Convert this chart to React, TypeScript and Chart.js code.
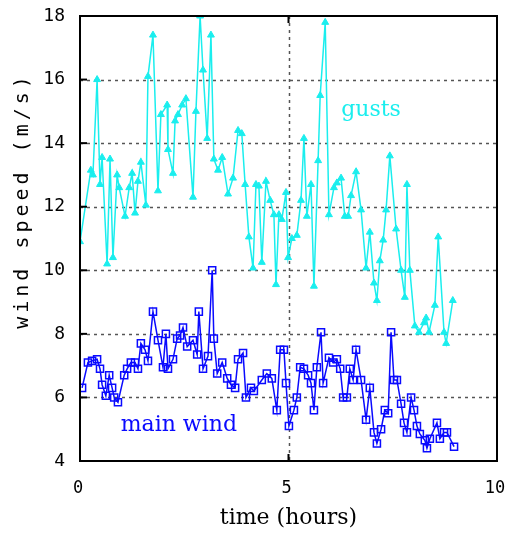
import React, { useEffect, useRef } from "react";
import { Chart, registerables } from "chart.js";

Chart.register(...registerables);

// ---- data (hours, m/s) ----
const gustTimes = [
  0.0, 0.26, 0.31, 0.41, 0.48, 0.53, 0.65, 0.72, 0.79, 0.89, 0.94, 1.08, 1.18, 1.25, 1.32, 1.39,
  1.46, 1.58, 1.63, 1.75, 1.87, 1.94, 2.09, 2.11, 2.23, 2.28, 2.35, 2.45, 2.54, 2.71, 2.78, 2.88,
  2.95, 3.05, 3.14, 3.21, 3.31, 3.41, 3.55, 3.67, 3.79, 3.88, 3.96, 4.05, 4.15, 4.22, 4.29, 4.36,
  4.46, 4.56, 4.65, 4.7, 4.77, 4.84, 4.94, 4.99, 5.08, 5.2, 5.3, 5.37, 5.44, 5.54, 5.61, 5.71,
  5.76, 5.88, 5.97, 6.09, 6.16, 6.26, 6.35, 6.43, 6.5, 6.62, 6.74, 6.86, 6.95, 7.05, 7.12, 7.19,
  7.27, 7.34, 7.43, 7.58, 7.7, 7.79, 7.84, 7.91, 8.03, 8.13, 8.25, 8.3, 8.37, 8.51, 8.59, 8.73,
  8.78, 8.94,
];
const gustSpeeds = [
  10.9, 13.15, 13.0, 16.0, 12.7, 13.55, 10.2, 13.5, 10.4, 13.0, 12.6, 11.7, 12.6, 13.05, 11.8, 12.8,
  13.4, 12.05, 16.1, 17.4, 12.5, 14.9, 15.2, 13.8, 13.05, 14.7, 14.9, 15.2, 15.4, 12.3, 15.0, 18.0,
  16.3, 14.15, 17.4, 13.5, 13.15, 13.55, 12.4, 12.9, 14.4, 14.3, 12.7, 11.05, 10.07, 12.7, 12.65, 10.25,
  12.8, 12.2, 11.75, 9.55, 11.75, 11.6, 12.45, 10.4, 11.0, 11.1, 12.2, 14.15, 11.7, 12.7, 9.5, 13.45,
  15.5, 17.8, 11.75, 12.6, 12.75, 12.9, 11.7, 11.7, 12.35, 13.1, 11.9, 10.07, 11.2, 9.6, 9.05, 10.3,
  10.95, 11.9, 13.6, 11.3, 10.0, 9.15, 12.7, 10.0, 8.25, 8.05, 8.35, 8.5, 8.05, 8.9, 11.05, 8.05,
  7.7, 9.05,
];
const windTimes = [
  0.05, 0.19, 0.29, 0.41, 0.48, 0.53, 0.62, 0.7, 0.77, 0.82, 0.91, 1.06, 1.13, 1.22, 1.32, 1.39,
  1.46, 1.56, 1.63, 1.75, 1.87, 1.99, 2.06, 2.11, 2.23, 2.33, 2.4, 2.47, 2.57, 2.71, 2.81, 2.85,
  2.95, 3.07, 3.17, 3.21, 3.29, 3.41, 3.53, 3.62, 3.72, 3.79, 3.91, 3.98, 4.1, 4.17, 4.36, 4.48,
  4.6, 4.72, 4.8, 4.89, 4.94, 5.01, 5.13, 5.2, 5.28, 5.37, 5.47, 5.54, 5.61, 5.68, 5.78, 5.83,
  5.97, 6.07, 6.16, 6.24, 6.31, 6.4, 6.47, 6.55, 6.62, 6.74, 6.86, 6.95, 7.05, 7.12, 7.22, 7.31,
  7.39, 7.46, 7.53, 7.6, 7.7, 7.77, 7.84, 7.94, 8.01, 8.08, 8.15, 8.27, 8.32, 8.39, 8.56, 8.63,
  8.73, 8.8, 8.97,
];
const windSpeeds = [
  6.3, 7.1, 7.15, 7.2, 6.9, 6.4, 6.05, 6.7, 6.3, 6.0, 5.85, 6.7, 6.9, 7.1, 7.1, 6.9,
  7.7, 7.5, 7.15, 8.7, 7.8, 6.95, 8.0, 6.9, 7.2, 7.85, 7.95, 8.2, 7.6, 7.8, 7.35, 8.7,
  6.9, 7.3, 10.0, 7.85, 6.75, 7.1, 6.6, 6.4, 6.3, 7.2, 7.4, 6.0, 6.3, 6.2, 6.55, 6.75,
  6.6, 5.6, 7.5, 7.5, 6.45, 5.1, 5.6, 6.0, 6.95, 6.9, 6.7, 6.45, 5.6, 6.95, 8.05, 6.45,
  7.25, 7.1, 7.2, 6.9, 6.0, 6.0, 6.9, 6.55, 7.5, 6.55, 5.3, 6.3, 4.9, 4.55, 5.0, 5.6,
  5.5, 8.05, 6.55, 6.55, 5.8, 5.2, 4.9, 6.0, 5.6, 5.1, 4.85, 4.65, 4.4, 4.7, 5.2, 4.7,
  4.9, 4.9, 4.45,
];
const xTicks = [0, 5, 10];
const yTicks = [4, 6, 8, 10, 12, 14, 16, 18];
const seriesNames = ["gusts", "main wind"];
const labelSpots = [
  { t: 6.98, v: 14.85 },
  { t: 2.37, v: 4.93 },
];
const xTitle = "time (hours)";
const yTitle = "wind speed (m/s)";

const GUST = "#1aeeee";
const WIND = "#0a0aff";

const decor = {
  id: "decor",
  beforeDatasetsDraw(chart: any) {
    const { ctx, chartArea: a, scales } = chart;
    const xs = scales.x, ys = scales.y;
    ctx.save();
    ctx.strokeStyle = "#555";
    ctx.lineWidth = 1.5;
    ctx.setLineDash([3, 4]);
    for (const v of yTicks) {
      if (v === yTicks[0] || v === yTicks[yTicks.length - 1]) continue;
      const y = Math.round(ys.getPixelForValue(v)) + 0.5;
      ctx.beginPath();
      ctx.moveTo(a.left, y);
      ctx.lineTo(a.right, y);
      ctx.stroke();
    }
    for (const v of xTicks) {
      if (v === xTicks[0] || v === xTicks[xTicks.length - 1]) continue;
      const x = Math.round(xs.getPixelForValue(v)) + 0.5;
      ctx.beginPath();
      ctx.moveTo(x, a.top);
      ctx.lineTo(x, a.bottom);
      ctx.stroke();
    }
    ctx.restore();
  },
  afterDatasetsDraw(chart: any) {
    const { ctx, chartArea: a, scales } = chart;
    const xs = scales.x, ys = scales.y;
    ctx.save();
    // tick marks
    ctx.strokeStyle = "#000";
    ctx.lineWidth = 2;
    ctx.setLineDash([]);
    for (const v of yTicks) {
      const y = ys.getPixelForValue(v);
      ctx.beginPath();
      ctx.moveTo(a.left, y);
      ctx.lineTo(a.left + 7, y);
      ctx.stroke();
    }
    for (const v of xTicks) {
      const x = xs.getPixelForValue(v);
      ctx.beginPath();
      ctx.moveTo(x, a.bottom);
      ctx.lineTo(x, a.bottom - 7);
      ctx.moveTo(x, a.top);
      ctx.lineTo(x, a.top + 7);
      ctx.stroke();
    }
    // frame
    ctx.lineWidth = 2;
    ctx.strokeRect(a.left, a.top, a.right - a.left, a.bottom - a.top);
    // series labels
    ctx.font = "22px 'DejaVu Serif'";
    ctx.textAlign = "center";
    ctx.textBaseline = "alphabetic";
    const cols = [GUST, WIND];
    labelSpots.forEach((p, i) => {
      ctx.fillStyle = cols[i];
      ctx.fillText(seriesNames[i], xs.getPixelForValue(p.t), ys.getPixelForValue(p.v));
    });
    // axis titles
    ctx.fillStyle = "#000";
    ctx.font = "22px 'DejaVu Serif'";
    ctx.textBaseline = "middle";
    ctx.fillText(xTitle, (a.left + a.right) / 2, 518);
    ctx.translate(23, (a.top + a.bottom) / 2 - 36);
    ctx.rotate(-Math.PI / 2);
    ctx.font = "20px 'DejaVu Sans Mono'";
    (ctx as any).letterSpacing = "4px";
    ctx.fillText(yTitle, 2, 0);
    ctx.restore();
  },
};

export default function App() {
  const ref = useRef<HTMLCanvasElement>(null);
  useEffect(() => {
    document.body.style.margin = "0";
    const chart = new Chart(ref.current!, {
      type: "line",
      data: {
        datasets: [
          {
            label: seriesNames[0],
            data: gustTimes.map((t, i) => ({ x: t, y: gustSpeeds[i] })),
            borderColor: GUST,
            backgroundColor: GUST,
            borderWidth: 1.5,
            pointStyle: "triangle",
            pointRadius: 4,
            pointBorderWidth: 1,
            tension: 0,
          },
          {
            label: seriesNames[1],
            data: windTimes.map((t, i) => ({ x: t, y: windSpeeds[i] })),
            borderColor: WIND,
            backgroundColor: "rgba(255,255,255,0)",
            borderWidth: 1.5,
            pointStyle: "rect",
            pointRadius: 5,
            pointBorderWidth: 1.5,
            tension: 0,
          },
        ],
      },
      options: {
        responsive: false,
        animation: false,
        devicePixelRatio: 1,
        layout: { padding: { top: 16, right: 9, left: 0, bottom: 0 } },
        plugins: { legend: { display: false }, tooltip: { enabled: false } },
        scales: {
          x: {
            type: "linear",
            min: 0,
            max: 10,
            afterBuildTicks: (s: any) => {
              s.ticks = xTicks.map((v) => ({ value: v }));
            },
            afterFit: (s: any) => {
              s.height = 74;
              s.paddingLeft = 0;
              s.paddingRight = 0;
            },
            grid: { display: false, drawTicks: false },
            border: { display: false },
            ticks: {
              padding: 17,
              labelOffset: -2,
              maxRotation: 0,
              color: "#000",
              font: { family: "'DejaVu Sans Mono'", size: 17 },
            },
          },
          y: {
            type: "linear",
            min: 4,
            max: 18,
            afterBuildTicks: (s: any) => {
              s.ticks = yTicks.map((v) => ({ value: v }));
            },
            afterFit: (s: any) => {
              s.width = 80;
              s.paddingTop = 0;
              s.paddingBottom = 0;
            },
            grid: { display: false, drawTicks: false },
            border: { display: false },
            ticks: {
              padding: 15,
              color: "#000",
              font: { family: "'DejaVu Sans Mono'", size: 18 },
            },
          },
        },
      },
      plugins: [decor],
    });
    return () => chart.destroy();
  }, []);
  return (
    <div style={{ position: "absolute", left: 0, top: 0, width: 506, height: 535, background: "#fff" }}>
      <canvas ref={ref} width={506} height={535} />
    </div>
  );
}
